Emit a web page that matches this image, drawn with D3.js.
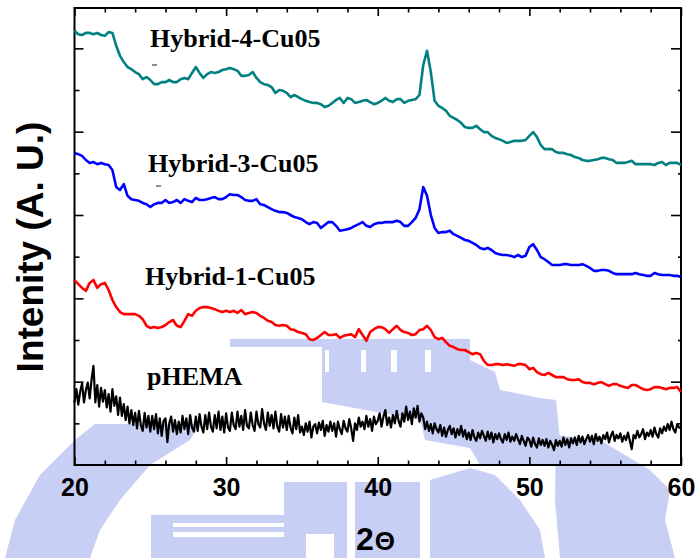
<!DOCTYPE html>
<html>
<head>
<meta charset="utf-8">
<script src="https://cdn.jsdelivr.net/npm/d3@7/dist/d3.min.js"></script>
<style>
  html, body { margin: 0; padding: 0; background: #ffffff; }
  svg { display: block; }
</style>
</head>
<body>
<svg id="chart" width="697" height="558"></svg>
<script>
// ---------------- DATA ----------------
const seriesNames = ["Hybrid-4-Cu05", "Hybrid-3-Cu05", "Hybrid-1-Cu05", "pHEMA"];

// 2θ scan grid of the hybrid samples (degrees)
const twoTheta = [
20,20.25,20.5,20.75,21,21.25,21.5,21.75,22,22.25,22.5,22.75,23,23.25,23.5,23.75,24,24.25,24.5,24.75,
25,25.25,25.5,25.75,26,26.25,26.5,26.75,27,27.25,27.5,27.75,28,28.25,28.5,28.75,29,29.25,29.5,29.75,
30,30.25,30.5,30.75,31,31.25,31.5,31.75,32,32.25,32.5,32.75,33,33.25,33.5,33.75,34,34.25,34.5,34.75,
35,35.25,35.5,35.75,36,36.25,36.5,36.75,37,37.25,37.5,37.75,38,38.25,38.5,38.75,39,39.25,39.5,39.75,
40,40.25,40.5,40.75,41,41.25,41.5,41.75,42,42.25,42.5,42.75,43,43.25,43.5,43.75,44,44.25,44.5,44.75,
45,45.25,45.5,45.75,46,46.25,46.5,46.75,47,47.25,47.5,47.75,48,48.25,48.5,48.75,49,49.25,49.5,49.75,
50,50.25,50.5,50.75,51,51.25,51.5,51.75,52,52.25,52.5,52.75,53,53.25,53.5,53.75,54,54.25,54.5,54.75,
55,55.25,55.5,55.75,56,56.25,56.5,56.75,57,57.25,57.5,57.75,58,58.25,58.5,58.75,59,59.25,59.5,59.75,
60];

// intensities (a.u., offset traces)
const hybrid4 = [
1042,1034,1032,1037,1037,1034,1037,1032,1030,1039,
1037,1006,982,967,955,950,943,938,926,931,
924,914,914,919,919,924,919,919,926,929,
926,941,955,941,929,938,943,941,943,948,
950,953,950,946,934,934,936,943,929,919,
914,912,907,893,900,898,893,883,888,883,
878,874,871,869,869,866,859,862,869,876,
881,869,881,878,869,871,874,876,871,866,
869,874,881,874,871,878,878,869,874,876,
878,888,960,994,943,874,862,857,850,838,
833,828,821,811,809,809,814,806,799,799,
790,785,782,778,773,775,778,778,778,780,
790,799,787,768,758,758,758,751,749,749,
746,744,739,737,732,730,730,732,734,737,
737,734,732,725,725,725,727,730,722,722,
722,722,722,720,725,727,720,725,725,725,
720];

const hybrid3 = [
749,746,742,732,725,727,722,725,722,720,
708,667,660,674,646,638,636,634,629,626,
619,626,629,629,636,629,631,636,629,638,
634,631,641,636,636,638,641,643,638,638,
643,650,648,648,643,636,634,634,638,626,
624,619,614,610,607,607,605,600,595,593,
590,583,578,583,581,569,576,583,583,574,
562,564,566,569,574,578,583,574,571,578,
581,581,583,583,583,586,583,574,574,583,
593,614,667,646,600,569,557,559,559,562,
554,550,545,540,538,533,528,521,518,521,
516,509,506,504,504,502,499,504,499,502,
523,530,516,499,494,487,480,480,480,482,
482,480,480,480,482,478,473,466,466,468,
468,466,461,458,458,458,458,458,461,458,
456,454,454,461,458,456,456,456,454,454,
451];

const hybrid1 = [
444,434,425,418,437,444,425,434,437,420,
396,379,367,362,362,362,362,358,350,334,
329,331,329,331,336,343,348,334,331,346,
362,358,370,377,379,379,377,374,370,367,
370,367,370,365,372,362,365,367,365,358,
353,346,343,336,334,336,334,326,324,319,
317,314,302,300,305,312,319,312,312,314,
305,310,312,314,307,326,312,298,319,326,
331,331,326,317,326,334,324,319,317,312,
314,324,326,334,324,307,302,305,295,286,
283,278,276,276,271,266,269,266,250,240,
240,242,242,240,242,240,238,242,242,240,
230,233,223,218,216,221,216,211,211,211,
206,204,204,206,199,197,197,194,197,199,
194,190,194,194,190,187,185,192,192,187,
182,180,182,187,187,185,182,185,185,187,
175];

// finer 2θ grid of the pHEMA scan (degrees)
const twoThetaFine = [
20,20.125,20.25,20.375,20.5,20.625,20.75,20.875,
21,21.125,21.25,21.375,21.5,21.625,21.75,21.875,
22,22.125,22.25,22.375,22.5,22.625,22.75,22.875,
23,23.125,23.25,23.375,23.5,23.625,23.75,23.875,
24,24.125,24.25,24.375,24.5,24.625,24.75,24.875,
25,25.125,25.25,25.375,25.5,25.625,25.75,25.875,
26,26.125,26.25,26.375,26.5,26.625,26.75,26.875,
27,27.125,27.25,27.375,27.5,27.625,27.75,27.875,
28,28.125,28.25,28.375,28.5,28.625,28.75,28.875,
29,29.125,29.25,29.375,29.5,29.625,29.75,29.875,
30,30.125,30.25,30.375,30.5,30.625,30.75,30.875,
31,31.125,31.25,31.375,31.5,31.625,31.75,31.875,
32,32.125,32.25,32.375,32.5,32.625,32.75,32.875,
33,33.125,33.25,33.375,33.5,33.625,33.75,33.875,
34,34.125,34.25,34.375,34.5,34.625,34.75,34.875,
35,35.125,35.25,35.375,35.5,35.625,35.75,35.875,
36,36.125,36.25,36.375,36.5,36.625,36.75,36.875,
37,37.125,37.25,37.375,37.5,37.625,37.75,37.875,
38,38.125,38.25,38.375,38.5,38.625,38.75,38.875,
39,39.125,39.25,39.375,39.5,39.625,39.75,39.875,
40,40.125,40.25,40.375,40.5,40.625,40.75,40.875,
41,41.125,41.25,41.375,41.5,41.625,41.75,41.875,
42,42.125,42.25,42.375,42.5,42.625,42.75,42.875,
43,43.125,43.25,43.375,43.5,43.625,43.75,43.875,
44,44.125,44.25,44.375,44.5,44.625,44.75,44.875,
45,45.125,45.25,45.375,45.5,45.625,45.75,45.875,
46,46.125,46.25,46.375,46.5,46.625,46.75,46.875,
47,47.125,47.25,47.375,47.5,47.625,47.75,47.875,
48,48.125,48.25,48.375,48.5,48.625,48.75,48.875,
49,49.125,49.25,49.375,49.5,49.625,49.75,49.875,
50,50.125,50.25,50.375,50.5,50.625,50.75,50.875,
51,51.125,51.25,51.375,51.5,51.625,51.75,51.875,
52,52.125,52.25,52.375,52.5,52.625,52.75,52.875,
53,53.125,53.25,53.375,53.5,53.625,53.75,53.875,
54,54.125,54.25,54.375,54.5,54.625,54.75,54.875,
55,55.125,55.25,55.375,55.5,55.625,55.75,55.875,
56,56.125,56.25,56.375,56.5,56.625,56.75,56.875,
57,57.125,57.25,57.375,57.5,57.625,57.75,57.875,
58,58.125,58.25,58.375,58.5,58.625,58.75,58.875,
59,59.125,59.25,59.375,59.5,59.625,59.75,59.875,
60];

const pHEMA = [
150,182,145,176,196,150,180,198,
160,205,238,150,192,140,185,152,
180,138,170,128,182,142,165,120,
162,118,146,108,140,100,132,96,
125,88,130,96,82,125,90,118,
80,118,86,122,76,112,70,106,
112,55,100,116,80,108,74,104,
78,118,86,112,74,120,90,80,
116,82,122,92,78,120,86,126,
92,80,120,88,128,84,116,78,
124,90,82,126,96,86,128,92,
118,84,132,94,88,126,96,82,
128,98,90,134,100,84,126,94,
120,88,128,92,80,122,90,116,
84,118,90,76,114,86,120,78,
92,72,100,80,104,66,92,98,
76,102,84,106,70,96,80,104,
82,100,68,104,86,74,106,88,
80,110,88,58,100,84,114,92,
104,86,118,92,110,82,116,98,
106,124,92,116,132,96,114,90,
120,100,130,106,92,124,104,140,
108,128,98,136,114,142,104,124,
114,86,104,82,98,76,100,86,
78,96,70,90,68,84,94,74,
88,66,86,72,94,68,84,62,
78,60,84,66,58,78,64,82,
70,58,80,62,78,54,74,62,
76,62,54,74,60,78,56,68,
58,74,62,50,70,58,46,66,
60,44,66,50,42,64,48,60,
46,62,42,58,48,36,60,46,
58,44,66,48,62,42,64,52,
66,48,70,54,68,50,62,72,
56,70,50,74,58,68,52,72,
62,78,54,70,80,58,72,64,
76,56,70,60,78,58,38,72,
64,82,66,74,86,62,78,70,
84,68,90,74,66,88,76,92,
82,98,84,104,86,78,98,90,
88];

const xMajorTicks = [20, 30, 40, 50, 60];
const xMinorTicks = [22, 24, 26, 28, 32, 34, 36, 38, 42, 44, 46, 48, 52, 54, 56, 58];
const yMajorTicks = [200, 400, 600, 800, 1000];
const yMinorTicks = [100, 300, 500, 700, 900];

// ---------------- LAYOUT / STYLE ----------------
const W = 697, H = 558;
const plot = { left: 74.5, right: 681, top: 8, bottom: 465 };
const sans = "'Liberation Sans', Arial, Helvetica, sans-serif";
const serif = "'Liberation Serif', 'Times New Roman', Times, serif";

const svg = d3.select("#chart");
svg.append("rect").attr("width", W).attr("height", H).attr("fill", "#ffffff");

const x = d3.scaleLinear().domain([20, 60]).range([plot.left, plot.right]);
const y = d3.scaleLinear().domain([0, 1096.8]).range([plot.bottom, plot.top]);

// ---- background watermark (decoration) ----
const wm = svg.append("g").attr("fill", "#a7b3ee").attr("opacity", 0.62);
const wmPolys = [
  [[95,424],[200,424],[190,440],[150,465],[120,500],[100,530],[90,558],[5,558],[15,520],[40,475],[75,440]],
  [[151,515],[284,515],[284,558],[151,558]],
  [[284,482],[347,482],[347,558],[284,558]],
  [[355,482],[420,482],[420,558],[355,558]],
  [[230,339],[470,339],[470,360],[495,372],[500,390],[540,398],[556,400],[560,440],[600,445],[615,465],[480,465],[470,448],[425,440],[420,420],[322,402],[322,350],[230,350]],
  [[430,480],[470,468],[495,475],[520,500],[540,530],[545,558],[430,558]],
  [[556,435],[600,440],[625,455],[650,470],[670,490],[665,520],[675,558],[560,558],[555,500]]
];
wm.selectAll("polygon").data(wmPolys).join("polygon")
  .attr("points", d => d.map(p => p.join(",")).join(" "));
const wmGaps = [[173,523,111,4],[173,532,111,5],[306,534,28,24],[325,350,4,22],[361,350,5,22],[391,350,6,22],[425,350,6,22]];
svg.append("g").attr("fill", "#ffffff").selectAll("rect").data(wmGaps).join("rect")
  .attr("x", d => d[0]).attr("y", d => d[1]).attr("width", d => d[2]).attr("height", d => d[3]);
// white box behind the pHEMA label
svg.append("rect").attr("x", 142).attr("y", 347).attr("width", 180).attr("height", 53).attr("fill", "#ffffff");

// ---- axes ----
function styleAxis(g) {
  g.select(".domain").remove();
  g.selectAll(".tick line").attr("stroke", "#000").attr("stroke-width", 1.6);
}
svg.append("g").attr("transform", `translate(0,${plot.bottom})`)
  .call(d3.axisBottom(x).tickValues(xMajorTicks).tickSizeInner(-8).tickSizeOuter(0).tickPadding(13).tickFormat(d3.format("d")))
  .call(styleAxis)
  .call(g => g.selectAll("text").attr("font-family", sans).attr("font-weight", "bold").attr("font-size", 25).attr("fill", "#000"));
svg.append("g").attr("transform", `translate(0,${plot.bottom})`)
  .call(d3.axisBottom(x).tickValues(xMinorTicks).tickSizeInner(-4.5).tickSizeOuter(0).tickFormat(""))
  .call(styleAxis);
svg.append("g").attr("transform", `translate(0,${plot.top})`)
  .call(d3.axisTop(x).tickValues(xMajorTicks).tickSizeInner(-8).tickSizeOuter(0).tickFormat(""))
  .call(styleAxis);
svg.append("g").attr("transform", `translate(0,${plot.top})`)
  .call(d3.axisTop(x).tickValues(xMinorTicks).tickSizeInner(-4.5).tickSizeOuter(0).tickFormat(""))
  .call(styleAxis);
svg.append("g").attr("transform", `translate(${plot.left},0)`)
  .call(d3.axisLeft(y).tickValues(yMajorTicks).tickSizeInner(-9).tickSizeOuter(0).tickFormat(""))
  .call(styleAxis);
svg.append("g").attr("transform", `translate(${plot.left},0)`)
  .call(d3.axisLeft(y).tickValues(yMinorTicks).tickSizeInner(-5).tickSizeOuter(0).tickFormat(""))
  .call(styleAxis);
svg.append("g").attr("transform", `translate(${plot.right},0)`)
  .call(d3.axisRight(y).tickValues(yMajorTicks).tickSizeInner(-10).tickSizeOuter(0).tickFormat(""))
  .call(styleAxis);
svg.append("g").attr("transform", `translate(${plot.right},0)`)
  .call(d3.axisRight(y).tickValues(yMinorTicks).tickSizeInner(-3).tickSizeOuter(0).tickFormat(""))
  .call(styleAxis);

// frame
svg.append("rect")
  .attr("x", plot.left).attr("y", plot.top)
  .attr("width", plot.right - plot.left).attr("height", plot.bottom - plot.top)
  .attr("fill", "none").attr("stroke", "#000").attr("stroke-width", 2);

// ---- traces ----
const line = d3.line().x(d => x(d[0])).y(d => y(d[1]));
const traces = [
  { data: d3.zip(twoThetaFine, pHEMA), color: "#000000", width: 2.2 },
  { data: d3.zip(twoTheta, hybrid1), color: "#ff0000", width: 2.6 },
  { data: d3.zip(twoTheta, hybrid3), color: "#0000ff", width: 2.6 },
  { data: d3.zip(twoTheta, hybrid4), color: "#008080", width: 2.6 }
];
svg.append("g").selectAll("path").data(traces).join("path")
  .attr("d", d => line(d.data))
  .attr("fill", "none")
  .attr("stroke", d => d.color)
  .attr("stroke-width", d => d.width)
  .attr("stroke-linejoin", "round");

// ---- series labels ----
const labelPos = [[150, 47], [148, 172], [145, 285], [147, 385]];
svg.append("g").selectAll("text").data(seriesNames).join("text")
  .attr("x", (d, i) => labelPos[i][0]).attr("y", (d, i) => labelPos[i][1])
  .attr("font-family", serif).attr("font-weight", "bold").attr("font-size", 26)
  .attr("fill", "#000").text(d => d);
// small stray marks under two labels
svg.append("g").attr("stroke", "#444").attr("stroke-width", 1.2)
  .selectAll("line").data([[152, 157, 65], [156, 161, 186]]).join("line")
  .attr("x1", d => d[0]).attr("x2", d => d[1]).attr("y1", d => d[2]).attr("y2", d => d[2]);

// ---- axis titles ----
svg.append("text")
  .attr("transform", "translate(43,247) rotate(-90)")
  .attr("text-anchor", "middle")
  .attr("font-family", sans).attr("font-weight", "bold").attr("font-size", 37)
  .attr("fill", "#000").text("Intenity (A. U.)");

const xt = svg.append("text").attr("x", 356).attr("y", 550)
  .attr("font-family", sans).attr("font-weight", "bold").attr("fill", "#000");
xt.append("tspan").attr("font-size", 32).text("2");
xt.append("tspan").attr("font-size", 26).attr("dx", 1).text("Θ");
</script>
</body>
</html>
